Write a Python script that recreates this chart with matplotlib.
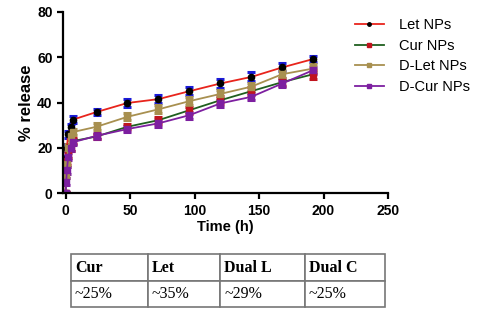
import matplotlib
matplotlib.use("Agg")
import matplotlib.pyplot as plt

time_h = [0, 0.5, 1, 2, 4, 6, 24, 48, 72, 96, 120, 144, 168, 192]

let_nps = [0, 15, 20, 26, 29, 32.5, 35.8, 39.8, 41.5, 45, 48.4, 51.3, 55.5, 59.2]
cur_nps = [0, 10, 14, 17, 20, 23, 25, 29.3, 32.2, 36.6, 41, 45, 49, 52.5]
dlet_nps = [0, 8, 13, 20, 25, 27, 29.3, 33.7, 37, 40.6, 43.8, 47, 52.5, 55]
dcur_nps = [0, 5, 10, 16, 20, 22.5, 25.3, 28.3, 30.8, 34.4, 39.6, 42.5, 48.4, 54.3]

let_err = [0.5, 1.5, 1.5, 1.5, 1.5, 1.5, 1.5, 1.8, 1.8, 1.8, 2, 2, 1.8, 1.5]
cur_err = [0.5, 1.5, 1.5, 1.5, 1.5, 1.2, 1.2, 1.2, 1.5, 1.5, 1.8, 1.8, 1.8, 2]
dlet_err = [0.5, 1.5, 1.5, 1.5, 1.5, 1.5, 1.5, 1.5, 1.8, 1.8, 1.8, 1.8, 1.8, 1.8]
dcur_err = [0.5, 1.5, 1.5, 1.5, 1.5, 1.2, 1.2, 1.2, 1.5, 1.5, 1.5, 1.5, 1.5, 1.5]

series_labels = ["Let NPs", "Cur NPs", "D-Let NPs", "D-Cur NPs"]

table_header = ["Cur", "Let", "Dual L", "Dual C"]
table_values = ["~25%", "~35%", "~29%", "~25%"]

plt.rcParams['font.family'] = ['Liberation Sans', 'DejaVu Sans']

fig = plt.figure(figsize=(5, 3.14), dpi=100)
ax = fig.add_axes([0.126, 0.385, 0.65, 0.577])

# line colour, marker colour, error bar colour, marker
styles = [
    ("#e8241c", "black", "#1a1ad8", "o"),
    ("#1f5f1f", "#c0141e", "#c0141e", "s"),
    ("#a89050", "#a89050", "#a89050", "s"),
    ("#7d1fa0", "#7d1fa0", "#7d1fa0", "s"),
]
data = [(let_nps, let_err), (cur_nps, cur_err), (dlet_nps, dlet_err), (dcur_nps, dcur_err)]

for (vals, errs), (lc, mc, ec, mk), lab in zip(data, styles, series_labels):
    ax.errorbar(time_h, vals, yerr=errs, color=lc, ecolor=ec, elinewidth=2.2,
                capsize=3, capthick=2.2, marker=mk, markersize=4.5,
                markerfacecolor=mc, markeredgecolor=mc, linewidth=1.3, label=lab)

ax.set_xlim(-2, 250)
ax.set_ylim(0, 80)
ax.set_xticks([0, 50, 100, 150, 200, 250])
ax.set_yticks([0, 20, 40, 60, 80])
ax.spines["top"].set_visible(False)
ax.spines["right"].set_visible(False)
ax.spines["left"].set_linewidth(1.6)
ax.spines["bottom"].set_linewidth(1.6)
ax.spines["left"].set_bounds(0, 80)
ax.tick_params(width=1.6, length=4, labelsize=10)
for t in ax.get_xticklabels() + ax.get_yticklabels():
    t.set_fontweight("bold")
ax.set_xlabel("Time (h)", fontsize=10.5, fontweight="bold", labelpad=2)
ax.set_ylabel("% release", fontsize=12, fontweight="bold", labelpad=2)

handles, labels = ax.get_legend_handles_labels()
handles = [h[0] for h in handles]
leg = ax.legend(handles, labels, loc="upper left", bbox_to_anchor=(0.88, 0.997),
                frameon=False, fontsize=10.5, handlelength=2.0, handletextpad=1.0,
                labelspacing=0.45, borderaxespad=0)
for h in leg.legend_handles:
    h.set_markersize(2.5)

tax = fig.add_axes([0.142, 0.022, 0.628, 0.168])
tax.axis("off")
tbl = tax.table(cellText=[table_header, table_values], cellLoc="left",
                bbox=[0, 0, 1, 1], colWidths=[0.245, 0.23, 0.27, 0.255])
tbl.auto_set_font_size(False)
for (r, c), cell in tbl.get_celld().items():
    cell.set_edgecolor("#777777")
    cell.set_linewidth(1.2)
    cell.PAD = 0.05
    cell.get_text().set_fontfamily("Liberation Serif")
    cell.get_text().set_fontsize(11.5)
    if r == 0:
        cell.get_text().set_fontweight("bold")

fig.savefig("out.png", dpi=100)
